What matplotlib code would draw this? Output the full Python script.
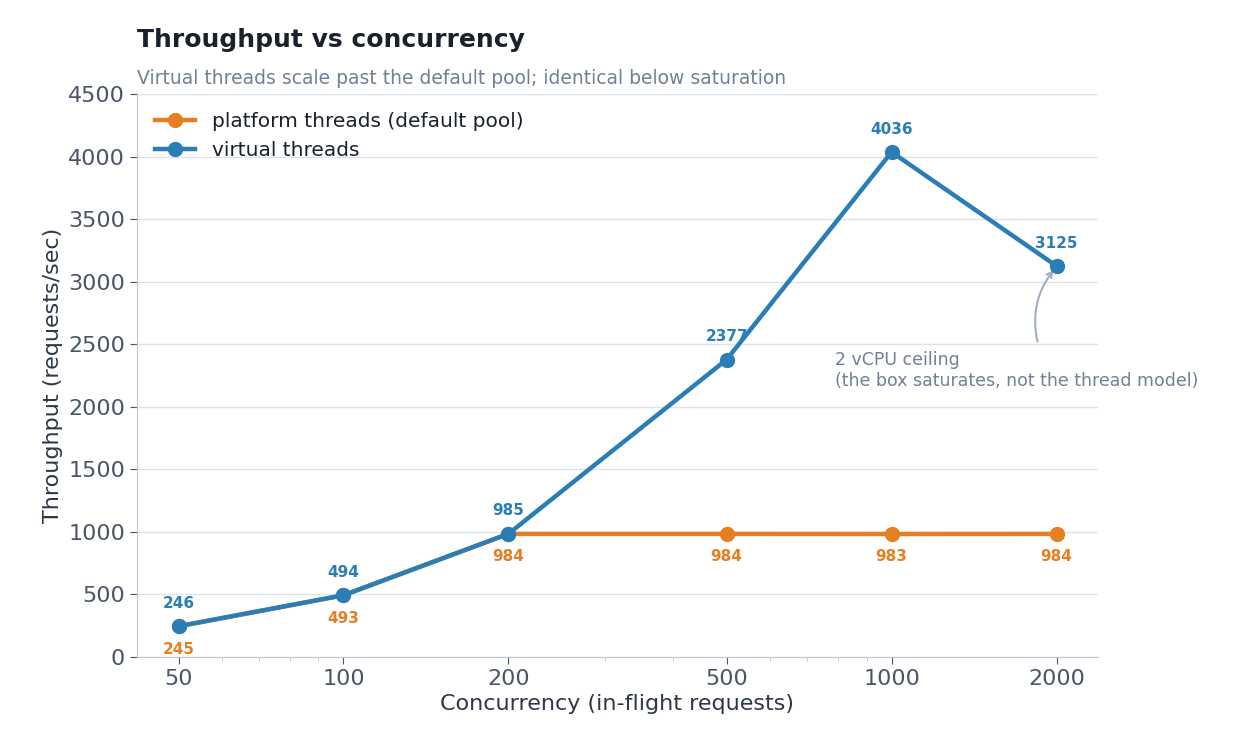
import matplotlib
matplotlib.use("Agg")
import matplotlib.pyplot as plt
from matplotlib.ticker import FixedLocator, NullFormatter, LogLocator

plt.rcParams['font.family'] = ['DejaVu Sans']

concurrency = [50, 100, 200, 500, 1000, 2000]
platform = [245, 493, 984, 984, 983, 984]
virtual = [246, 494, 985, 2377, 4036, 3125]
tick_labels = ["50", "100", "200", "500", "1000", "2000"]

orange = "#e67e22"
blue = "#2a7db5"

fig = plt.figure(figsize=(12.6, 7.56), dpi=100)
ax = fig.add_axes([137/1260, 1-657/756, (1098-137)/1260, (657-94)/756])

ax.plot(concurrency, platform, color=orange, lw=3.2, marker="o", ms=10, label="platform threads (default pool)", zorder=3)
ax.plot(concurrency, virtual, color=blue, lw=3.2, marker="o", ms=10, label="virtual threads", zorder=4)

for x, p, v in zip(concurrency, platform, virtual):
    ax.annotate(str(v), (x, v), xytext=(0, 11), textcoords="offset points", ha="center", va="bottom",
                color=blue, fontsize=11, fontweight="bold")
    ax.annotate(str(p), (x, p), xytext=(0, -11), textcoords="offset points", ha="center", va="top",
                color=orange, fontsize=11, fontweight="bold")

ax.set_xscale("log")
ax.set_xlim(42, 2380)
ax.set_ylim(0, 4500)
ax.xaxis.set_major_locator(FixedLocator(concurrency))
ax.set_xticklabels(tick_labels)
ax.xaxis.set_minor_locator(LogLocator(base=10, subs=range(2, 10)))
ax.xaxis.set_minor_formatter(NullFormatter())
ax.set_yticks(range(0, 4501, 500))
ax.grid(axis="y", color="#dde3ea", lw=1)
ax.set_axisbelow(True)
for s in ["top", "right"]:
    ax.spines[s].set_visible(False)
for s in ["left", "bottom"]:
    ax.spines[s].set_color("#c0c7d0")
ax.tick_params(axis="both", labelsize=16, colors="#4a5568", length=5)
ax.tick_params(axis="x", which="minor", length=3, color="#c0c7d0")
ax.set_xlabel("Concurrency (in-flight requests)", fontsize=16, color="#2d3748")
ax.set_ylabel("Throughput (requests/sec)", fontsize=16, color="#2d3748")

fig.text(137/1260, 1-40/756, "Throughput vs concurrency", fontsize=18, fontweight="bold", color="#1a202c", va="center")
fig.text(137/1260, 1-78/756, "Virtual threads scale past the default pool; identical below saturation",
         fontsize=13.5, color="#718096", va="center")

ax.annotate("2 vCPU ceiling\n(the box saturates, not the thread model)", xy=(2000, 3125),
            xytext=(790, 2290), textcoords="data", fontsize=12.5, color="#718096", va="center", ha="left")
ax.annotate("", xy=(1990, 3110), xytext=(1850, 2500),
            arrowprops=dict(arrowstyle="->", color="#a0aec0", lw=1.5, connectionstyle="arc3,rad=-0.25"))

leg = ax.legend(loc="upper left", fontsize=14.5, frameon=False, handlelength=2, bbox_to_anchor=(0.0, 1.0))
for t in leg.get_texts():
    t.set_color("#1a202c")

fig.savefig("out.png", dpi=100)
